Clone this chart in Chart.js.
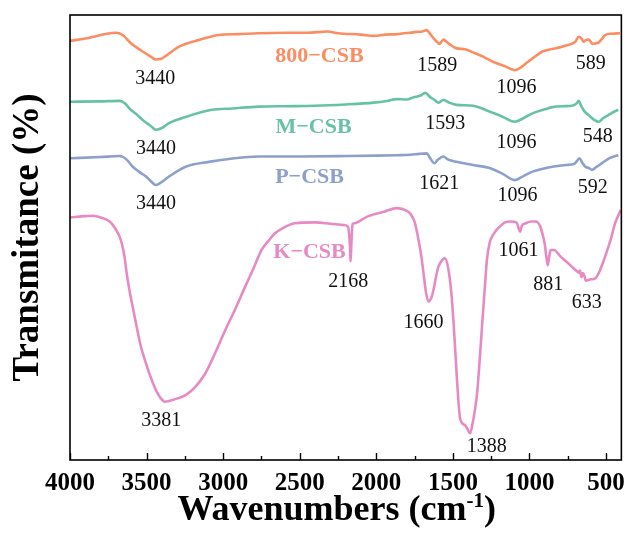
<!DOCTYPE html>
<html>
<head>
<meta charset="utf-8">
<script src="https://cdn.jsdelivr.net/npm/chart.js@4.4.1/dist/chart.umd.min.js"></script>
<style>
  html, body { margin: 0; padding: 0; background: #fff; }
  #wrap { width: 634px; height: 538px; }
</style>
</head>
<body>
<div id="wrap"><canvas id="ftir" width="634" height="538"></canvas></div>
<script>
// FTIR spectra: wavenumber (cm-1) and relative transmittance (arbitrary offset units)
const wn800 = [4000, 3900, 3849, 3760, 3700, 3657, 3601, 3525, 3470, 3440, 3410, 3374, 3288, 3159, 3029, 2900, 2771, 2600, 2450, 2318, 2250, 2100, 2016, 1940, 1865, 1820, 1779, 1740, 1700, 1671, 1650, 1627, 1605, 1589, 1575, 1560, 1552, 1520, 1476, 1420, 1368, 1300, 1239, 1160, 1096, 1060, 1024, 970, 916, 820, 743, 700, 679, 660, 647, 630, 614, 600, 589, 570, 549, 530, 506, 460, 409];
const t800 = [94.2, 94.7, 95.1, 95.8, 96.0, 95.5, 93.6, 91.8, 90.6, 90.0, 90.1, 90.8, 92.9, 94.4, 95.5, 95.7, 95.9, 96.0, 96.0, 96.3, 95.9, 95.6, 95.3, 95.6, 95.7, 95.9, 96.0, 96.2, 96.3, 96.6, 95.8, 94.8, 94.0, 93.5, 94.0, 94.5, 94.3, 93.4, 92.5, 92.3, 91.6, 90.6, 89.5, 88.5, 87.6, 88.1, 89.1, 90.5, 91.8, 92.6, 93.3, 94.0, 95.1, 94.7, 94.0, 94.4, 94.5, 94.0, 93.5, 93.6, 93.8, 94.5, 95.5, 95.8, 95.9];

const wnM = [4000, 3800, 3676, 3640, 3612, 3570, 3525, 3470, 3440, 3400, 3353, 3245, 3073, 2943, 2771, 2600, 2404, 2200, 2016, 1940, 1865, 1800, 1757, 1710, 1680, 1650, 1620, 1606, 1593, 1563, 1530, 1476, 1368, 1261, 1180, 1096, 1040, 980, 900, 851, 780, 722, 690, 679, 660, 640, 614, 580, 548, 520, 485, 450, 420];
const tM = [80.5, 80.6, 80.7, 80.1, 79.0, 77.8, 76.4, 75.0, 74.2, 74.6, 75.7, 77.1, 78.7, 79.0, 79.4, 79.5, 79.6, 79.9, 80.3, 80.6, 81.1, 81.0, 81.5, 81.9, 82.5, 81.6, 80.9, 80.5, 80.3, 80.9, 80.4, 79.8, 79.6, 78.3, 77.2, 76.0, 76.8, 77.9, 78.8, 79.3, 79.5, 79.6, 80.2, 80.7, 79.4, 78.3, 77.5, 76.5, 76.0, 76.8, 77.5, 78.2, 78.7];

const wnP = [4000, 3800, 3676, 3630, 3590, 3550, 3504, 3470, 3440, 3400, 3353, 3245, 3094, 2950, 2771, 2500, 2188, 2000, 1865, 1780, 1720, 1671, 1650, 1621, 1600, 1563, 1530, 1476, 1368, 1261, 1180, 1096, 1040, 980, 851, 760, 710, 685, 674, 655, 635, 610, 592, 565, 527, 480, 440, 420];
const tP = [67.8, 68.1, 68.3, 67.5, 65.9, 64.8, 63.7, 62.6, 61.8, 62.5, 63.7, 65.9, 67.0, 67.7, 68.2, 68.2, 68.3, 68.4, 68.5, 68.6, 68.8, 68.9, 67.9, 66.7, 67.4, 68.2, 67.5, 67.0, 66.3, 65.6, 64.4, 62.9, 63.8, 64.8, 65.9, 66.3, 66.5, 67.4, 67.8, 66.8, 65.9, 65.6, 65.2, 65.8, 66.7, 67.8, 68.3, 68.5];

const wnK = [4000, 3900, 3849, 3800, 3741, 3710, 3676, 3660, 3644, 3630, 3612, 3590, 3569, 3540, 3504, 3470, 3439, 3410, 3381, 3320, 3245, 3180, 3116, 3050, 2986, 2920, 2857, 2800, 2749, 2700, 2663, 2600, 2533, 2400, 2300, 2210, 2185, 2172, 2168, 2163, 2155, 2145, 2059, 1950, 1865, 1800, 1779, 1750, 1724, 1705, 1692, 1675, 1660, 1640, 1627, 1610, 1595, 1570, 1552, 1530, 1510, 1494, 1475, 1460, 1451, 1420, 1407, 1388, 1370, 1355, 1342, 1325, 1310, 1290, 1278, 1261, 1230, 1196, 1160, 1121, 1085, 1070, 1061, 1050, 1024, 990, 959, 930, 916, 900, 890, 881, 872, 862, 840, 797, 760, 722, 700, 685, 679, 670, 661, 650, 640, 633, 600, 571, 540, 506, 470, 441, 404];
const tK = [54.5, 54.8, 54.9, 54.5, 53.6, 52.3, 50.2, 48.4, 45.7, 42.0, 38.2, 34.3, 30.7, 25.9, 21.7, 18.3, 15.7, 14.0, 13.1, 13.6, 14.6, 16.5, 19.5, 24.2, 29.2, 34.0, 38.9, 43.2, 47.2, 49.4, 50.9, 52.3, 53.2, 53.4, 53.1, 52.8, 52.4, 48.0, 44.6, 48.5, 53.0, 53.2, 54.7, 55.8, 56.6, 56.0, 55.4, 53.5, 49.4, 45.5, 42.0, 37.5, 35.6, 36.5, 38.2, 41.2, 43.4, 44.9, 45.3, 43.0, 37.5, 30.0, 19.0, 11.5, 9.0, 7.8, 7.1, 6.0, 8.5, 11.5, 15.0, 22.5, 30.0, 39.5, 44.9, 48.7, 51.0, 52.4, 53.4, 53.6, 53.4, 52.0, 51.3, 52.6, 53.2, 53.6, 53.6, 52.5, 50.9, 48.5, 45.7, 43.8, 45.5, 47.2, 47.2, 45.7, 44.6, 43.4, 42.7, 42.3, 42.1, 42.6, 41.1, 42.0, 41.2, 40.3, 40.6, 40.8, 42.6, 45.7, 49.5, 53.2, 56.2];

const sampleNames = ['800−CSB', 'M−CSB', 'P−CSB', 'K−CSB'];
const peaks800 = [3440, 1589, 1096, 589];
const peaksM = [3440, 1593, 1096, 548];
const peaksP = [3440, 1621, 1096, 592];
const peaksK = [3381, 2168, 1660, 1388, 1061, 881, 633];

const majorTicks = [4000, 3500, 3000, 2500, 2000, 1500, 1000, 500];
const minorTicks = [3750, 3250, 2750, 2250, 1750, 1250, 750];

// where each text label sits, in axis units [wavenumber, transmittance]
const nameSpots = [[2371, 91.2], [2410, 75.1], [2436, 64.0], [2436, 47.0]];
const peakSpots = [
  [[3444, 86.1], [1602, 89.0], [1085, 84.0], [600, 89.4]],
  [[3438, 70.3], [1550, 76.0], [1085, 71.7], [555, 73.0]],
  [[3438, 58.0], [1589, 62.5], [1078, 59.8], [587, 61.6]],
  [[3405, 9.2], [2184, 40.4], [1692, 31.2], [1279, 3.4], [1072, 47.4], [878, 39.8], [626, 35.7]]
];

const colors = ['#FC8D62', '#66C2A5', '#8DA0CB', '#E78AC3'];
const SERIF = "'Liberation Serif', 'Times New Roman', serif";

const pairs = (xs, ys) => xs.map((x, i) => ({ x, y: ys[i] }));
const series = [pairs(wn800, t800), pairs(wnM, tM), pairs(wnP, tP), pairs(wnK, tK)];
const peakSets = [peaks800, peaksM, peaksP, peaksK];

const decorations = {
  id: 'decorations',
  afterDraw(chart) {
    const { ctx, chartArea: a, scales: { x, y } } = chart;
    ctx.save();

    // frame
    ctx.strokeStyle = '#000';
    ctx.lineWidth = 1.6;
    ctx.strokeRect(a.left, a.top, a.right - a.left, a.bottom - a.top);

    // inward ticks on the wavenumber axis
    ctx.lineWidth = 1.4;
    ctx.beginPath();
    majorTicks.forEach(v => {
      const px = Math.round(x.getPixelForValue(v)) + 0.5;
      ctx.moveTo(px, a.bottom); ctx.lineTo(px, a.bottom - 7);
    });
    minorTicks.forEach(v => {
      const px = Math.round(x.getPixelForValue(v)) + 0.5;
      ctx.moveTo(px, a.bottom); ctx.lineTo(px, a.bottom - 4);
    });
    ctx.stroke();

    // sample names
    ctx.textAlign = 'center';
    ctx.textBaseline = 'alphabetic';
    ctx.font = `bold 22px ${SERIF}`;
    sampleNames.forEach((name, i) => {
      const [w, t] = nameSpots[i];
      ctx.fillStyle = colors[i];
      ctx.fillText(name, x.getPixelForValue(w), y.getPixelForValue(t) + 7.5);
    });

    // peak positions
    ctx.font = `20px ${SERIF}`;
    ctx.fillStyle = '#111';
    peakSets.forEach((peaks, i) => {
      peaks.forEach((p, j) => {
        const [w, t] = peakSpots[i][j];
        ctx.fillText(String(p), x.getPixelForValue(w), y.getPixelForValue(t) + 7);
      });
    });

    // axis title with superscript
    const main = 'Wavenumbers (cm';
    const sup = '-1';
    const close = ')';
    ctx.fillStyle = '#000';
    ctx.textAlign = 'left';
    ctx.font = `bold 36px ${SERIF}`;
    const wMain = ctx.measureText(main).width;
    const wClose = ctx.measureText(close).width;
    ctx.font = `bold 21px ${SERIF}`;
    const wSup = ctx.measureText(sup).width;
    const total = wMain + wSup + wClose;
    const cx = (a.left + a.right) / 2 - 9;
    const base = 520;
    let sx = cx - total / 2;
    ctx.font = `bold 36px ${SERIF}`;
    ctx.fillText(main, sx, base);
    sx += wMain;
    ctx.font = `bold 21px ${SERIF}`;
    ctx.fillText(sup, sx, base - 13);
    sx += wSup;
    ctx.font = `bold 36px ${SERIF}`;
    ctx.fillText(close, sx, base);

    ctx.restore();
  }
};

new Chart(document.getElementById('ftir'), {
  type: 'line',
  data: {
    datasets: series.map((pts, i) => ({
      label: sampleNames[i],
      data: pts,
      borderColor: colors[i],
      borderWidth: 2.6,
      pointRadius: 0,
      fill: false,
      cubicInterpolationMode: 'monotone'
    }))
  },
  options: {
    responsive: false,
    animation: false,
    devicePixelRatio: 1,
    layout: { padding: { top: 15, right: 7, left: 0, bottom: 0 } },
    plugins: { legend: { display: false }, tooltip: { enabled: false } },
    scales: {
      x: {
        type: 'linear',
        min: 400,
        max: 4000,
        reverse: true,
        afterBuildTicks: s => { s.ticks = majorTicks.map(v => ({ value: v })); },
        afterFit: s => { s.height = 78; },
        grid: { display: false, drawTicks: false },
        border: { display: false },
        ticks: {
          color: '#000',
          font: { family: SERIF, size: 25, weight: 'bold' },
          padding: 9,
          maxRotation: 0,
          autoSkip: false,
          callback: v => String(v)
        }
      },
      y: {
        min: 0,
        max: 100,
        afterFit: s => { s.width = 70; },
        grid: { display: false, drawTicks: false },
        border: { display: false },
        ticks: { display: false },
        title: {
          display: true,
          text: 'Transmitance (%)',
          color: '#000',
          font: { family: SERIF, size: 37, weight: 'bold' },
          padding: { top: 6, bottom: 0 }
        }
      }
    }
  },
  plugins: [decorations]
});
</script>
</body>
</html>
